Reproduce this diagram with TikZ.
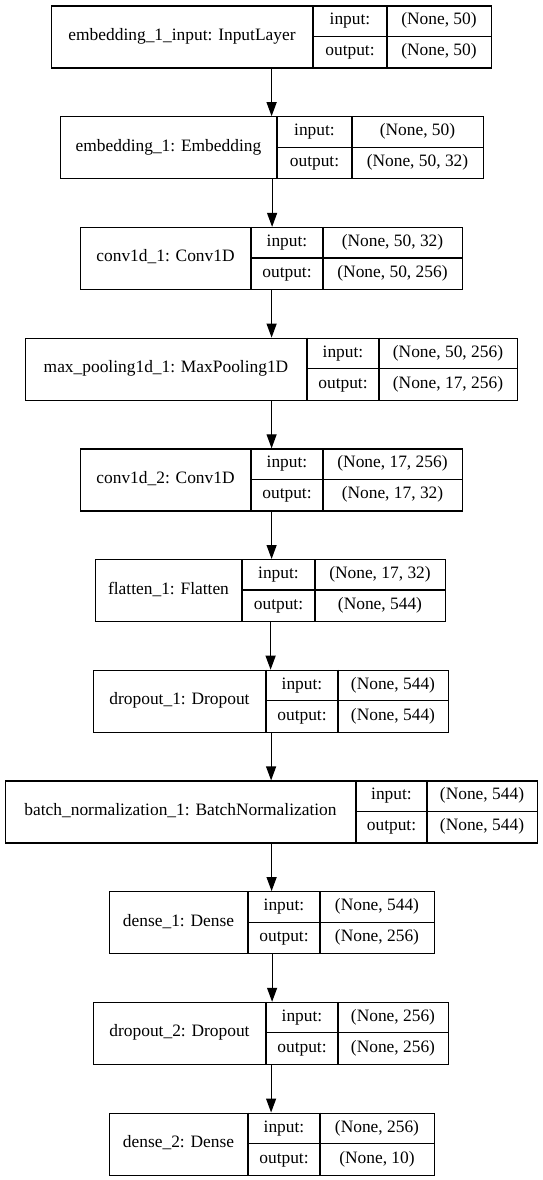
\documentclass[tikz,border=0pt]{standalone}
\usepackage{fontspec}
\setmainfont{Liberation Serif}
\usetikzlibrary{arrows.meta}

\tikzset{
  layerframe/.style={draw, line width=1.2pt, inner sep=0pt, anchor=north west, minimum height=62pt},
  cellline/.style={line width=1.2pt},
  txt/.style={inner sep=0pt, text height=12pt, text depth=4pt, font=\fontsize{17.4}{20}\selectfont},
  flow/.style={line width=1.2pt, -{Triangle[length=14pt,width=10pt]}},
}

% #1 id, #2 top, #3 left, #4 first divider, #5 second divider, #6 right,
% #7 layer name, #8 input shape, #9 output shape
\newcommand{\layerbox}[9]{%
  \node[layerframe, minimum width={(#6-#3)*1pt}] (#1) at (#3,#2) {};
  \draw[cellline] (#4,#2) -- (#4,#2+62) (#5,#2) -- (#5,#2+62) (#4,#2+31) -- (#6,#2+31);
  \node[txt] (#1-name) at ({(#3+#4)/2},#2+31) {#7};
  \node[txt] (#1-in) at ({(#4+#5)/2},#2+15.5) {input:};
  \node[txt] (#1-out) at ({(#4+#5)/2},#2+46.5) {output:};
  \node[txt] (#1-inv) at ({(#5+#6)/2},#2+15.5) {#8};
  \node[txt] (#1-outv) at ({(#5+#6)/2},#2+46.5) {#9};
}

\begin{document}
\begin{tikzpicture}[x=1pt,y=-1pt]
  \useasboundingbox (0,0) rectangle (543,1180);

  \layerbox{l1}{5.5}{51}{313}{387}{491}{embedding\_1\_input: InputLayer}{(None, 50)}{(None, 50)};
  \layerbox{l2}{116.2}{60}{277}{352}{483}{embedding\_1: Embedding}{(None, 50)}{(None, 50, 32)};
  \layerbox{l3}{226.9}{80}{251}{323}{462}{conv1d\_1: Conv1D}{(None, 50, 32)}{(None, 50, 256)};
  \layerbox{l4}{337.6}{25}{307}{379}{517}{max\_pooling1d\_1: MaxPooling1D}{(None, 50, 256)}{(None, 17, 256)};
  \layerbox{l5}{448.3}{80}{251}{323}{462}{conv1d\_2: Conv1D}{(None, 17, 256)}{(None, 17, 32)};
  \layerbox{l6}{559}{95}{242}{315}{445}{flatten\_1: Flatten}{(None, 17, 32)}{(None, 544)};
  \layerbox{l7}{669.7}{93}{266}{338}{448}{dropout\_1: Dropout}{(None, 544)}{(None, 544)};
  \layerbox{l8}{780.4}{5}{356}{427}{537}{batch\_normalization\_1: BatchNormalization}{(None, 544)}{(None, 544)};
  \layerbox{l9}{891.1}{109}{248}{320}{434}{dense\_1: Dense}{(None, 544)}{(None, 256)};
  \layerbox{l10}{1001.8}{93}{266}{338}{448}{dropout\_2: Dropout}{(None, 256)}{(None, 256)};
  \layerbox{l11}{1112.5}{109}{248}{320}{434}{dense\_2: Dense}{(None, 256)}{(None, 10)};

  \foreach \a/\b in {l1/l2,l2/l3,l3/l4,l4/l5,l5/l6,l6/l7,l7/l8,l8/l9,l9/l10,l10/l11}
    \draw[flow] (\a.south) -- (\a.south |- \b.north);
\end{tikzpicture}
\end{document}
